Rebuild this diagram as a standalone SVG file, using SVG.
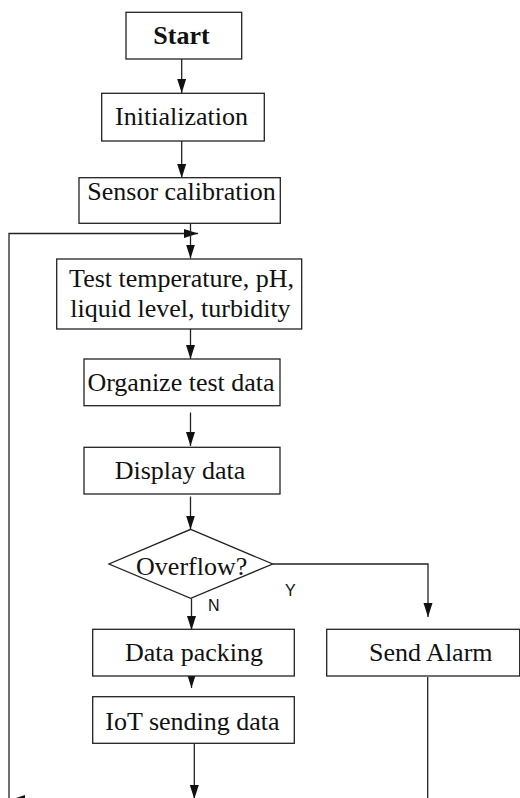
<svg xmlns="http://www.w3.org/2000/svg" width="520" height="798" viewBox="0 0 520 798">
<defs>
<style>
.box{fill:#fff;stroke:#222;stroke-width:1.3}
.t{font-family:"Liberation Serif","Times New Roman",serif;font-size:26px;fill:#111;text-anchor:middle}
.b{font-weight:bold}
.lbl{font-family:"Liberation Sans",Arial,sans-serif;font-size:16px;fill:#111}
.c{fill:none;stroke:#222;stroke-width:1.3}
</style>
<marker id="ah" markerUnits="userSpaceOnUse" markerWidth="14" markerHeight="10" refX="14" refY="4.5" orient="auto">
<path d="M0,0 L14,4.5 L0,9 z" fill="#111"/>
</marker>
</defs>
<rect width="520" height="798" fill="#fff"/>
<g id="connectors">
<line class="c" x1="181.7" y1="59" x2="181.7" y2="93" marker-end="url(#ah)"/>
<line class="c" x1="181.7" y1="141" x2="181.7" y2="178" marker-end="url(#ah)"/>
<polyline class="c" points="9,798 9,233.5 198,233.5" marker-end="url(#ah)"/>
<line class="c" x1="190.5" y1="223" x2="190.5" y2="258.5" marker-end="url(#ah)"/>
<line class="c" x1="190.5" y1="329" x2="190.5" y2="359" marker-end="url(#ah)"/>
<line class="c" x1="190.5" y1="412.5" x2="190.5" y2="446" marker-end="url(#ah)"/>
<line class="c" x1="190.5" y1="496.5" x2="190.5" y2="529.5" marker-end="url(#ah)"/>
<polyline class="c" points="272.7,564 428,564 428,617" marker-end="url(#ah)"/>
<line class="c" x1="191.5" y1="598.5" x2="191.5" y2="630" marker-end="url(#ah)"/>
<line class="c" x1="191.5" y1="676" x2="191.5" y2="688" marker-end="url(#ah)"/>
<line class="c" x1="194.3" y1="743.5" x2="194.3" y2="799" marker-end="url(#ah)"/>
<line class="c" x1="427.7" y1="677" x2="427.7" y2="798"/>
<polygon points="10,800 25,795 25,805" fill="#111"/>
<text class="lbl" x="285" y="596">Y</text>
<text class="lbl" x="208" y="610.5">N</text>
</g>
<g id="start">
<rect class="box" x="126" y="12.3" width="115.7" height="46.7"/>
<text class="t b" x="181.5" y="44.3">Start</text>
</g>
<g id="init">
<rect class="box" x="101.7" y="93.3" width="162.6" height="47.7"/>
<text class="t" x="181.5" y="125">Initialization</text>
</g>
<g id="calib">
<rect class="box" x="79" y="177.7" width="201.3" height="45.6"/>
<text class="t" x="181.5" y="200">Sensor calibration</text>
</g>
<g id="test">
<rect class="box" x="56.7" y="259" width="245" height="70"/>
<text class="t" x="181.5" y="286.7">Test temperature, pH,</text>
<text class="t" x="180.5" y="316.7">liquid level, turbidity</text>
</g>
<g id="organize">
<rect class="box" x="84" y="359" width="196" height="46.7"/>
<text class="t" x="181" y="391">Organize test data</text>
</g>
<g id="display">
<rect class="box" x="84" y="447.3" width="196" height="46.7"/>
<text class="t" x="180" y="479">Display data</text>
</g>
<g id="overflow">
<polygon class="box" points="190.7,529.3 272.7,564 190.7,598.3 109,564"/>
<text class="t" x="191.7" y="575">Overflow?</text>
</g>
<g id="packing">
<rect class="box" x="92.7" y="629.3" width="201.6" height="46.7"/>
<text class="t" x="194" y="660.7">Data packing</text>
</g>
<g id="iot">
<rect class="box" x="92.7" y="696.7" width="201.6" height="46.6"/>
<text class="t" x="192.5" y="730">IoT sending data</text>
</g>
<g id="alarm">
<rect class="box" x="326.7" y="629.3" width="193" height="46.7"/>
<text class="t" x="430.8" y="660.7">Send Alarm</text>
</g>
</svg>
